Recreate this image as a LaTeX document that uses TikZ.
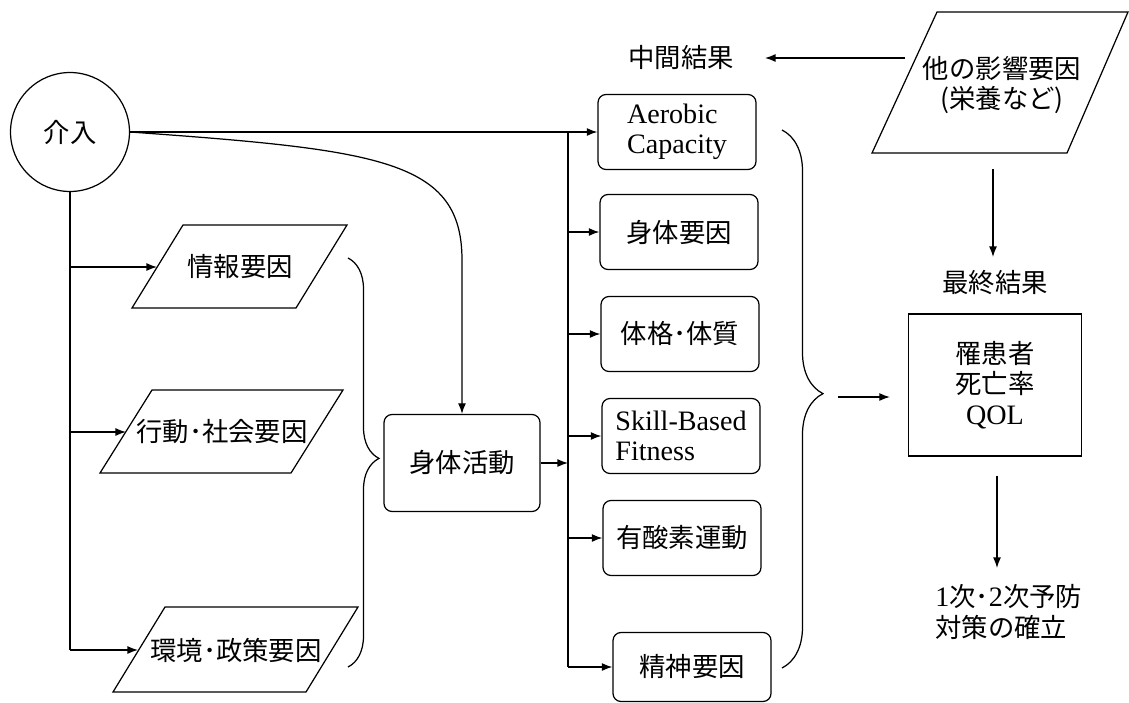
\documentclass[tikz,border=0pt]{standalone}
\usepackage{fontspec}
\setmainfont{Liberation Serif}
\newfontfamily\jp{Noto Sans CJK JP}
\usetikzlibrary{arrows.meta,decorations.pathreplacing,calc}
\newcommand\jpf{\jp\fontsize{15}{17.5}\selectfont}
\newcommand\latf{\rmfamily\fontsize{16}{17.2}\selectfont}
\begin{document}
\begin{tikzpicture}[x=0.02cm,y=-0.02cm,
  ln/.style={line width=0.7pt},
  arr/.style={ln,-{Latex[length=6pt,width=4.5pt]}},
  rbox/.style={draw,ln,rounded corners=0.16cm,minimum width=3.16cm,minimum height=1.5cm,align=center,inner sep=0pt,font=\jpf},
  jt/.style={font=\jpf,inner sep=0pt,align=center},
  brc/.style={ln,decorate,decoration={brace,amplitude=#1,aspect=0.49}}]
\useasboundingbox (0,0) rectangle (1129,703);

% intervention
\node[circle,draw,ln,minimum size=2.38cm,inner sep=0pt,font=\jpf] (ca) at (70,132) {介入};

% left parallelograms
\draw[ln] (132,308) -- (183,225) -- (347,225) -- (296,308) -- cycle;
\node[jt] (inf) at (240,267) {情報要因};
\coordinate (infL) at (157,267);
\draw[ln] (100,473) -- (152,390) -- (343,390) -- (291,473) -- cycle;
\node[jt] (beh) at (222,432) {行動･社会要因};
\coordinate (behL) at (126,432);
\draw[ln] (113,692) -- (165,607) -- (358,607) -- (306,692) -- cycle;
\node[jt] (env) at (236,650) {環境･政策要因};
\coordinate (envL) at (138,650);

% left brace
\draw[brc=0.62cm] (348,258) -- (348,667);

% physical activity
\node[rbox,minimum width=3.12cm,minimum height=1.94cm] (act) at (462,463) {身体活動};

% middle boxes
\node[rbox,font=\latf,align=left] (m1) at (677,132) {Aerobic\\Capacity};
\node[rbox] (m2) at (679,232) {身体要因};
\node[rbox] (m3) at (680,334) {体格･体質};
\node[rbox,font=\latf,align=left] (m4) at (681,436) {Skill-Based\\Fitness};
\node[rbox] (m5) at (682,538) {有酸素運動};
\node[rbox,minimum height=1.38cm] (m6) at (692,667) {精神要因};

% right vertical bus
\coordinate (vtop) at (568,132);
\coordinate (vbot) at (568,667);

% connectors left side
\draw[ln] (ca.south) -- (ca.south |- envL);
\draw[arr] (ca.south |- infL) -- (infL);
\draw[arr] (ca.south |- behL) -- (behL);
\draw[arr] (ca.south |- envL) -- (envL);
\draw[arr] (ca.east) -- (m1.west);
\draw[arr] (ca.east) .. controls (380,150) and (462,160) .. (462,260) -- (act.north);

% bus and branches
\draw[ln] (vtop) -- (vbot);
\draw[arr] (act.east) -- (act.east -| vtop);
\draw[arr] (vtop |- m2.west) -- (m2.west);
\draw[arr] (vtop |- m3.west) -- (m3.west);
\draw[arr] (vtop |- m4.west) -- (m4.west);
\draw[arr] (vtop |- m5.west) -- (m5.west);
\draw[arr] (vbot) -- (vbot -| m6.west);

% right brace
\draw[brc=0.82cm] (782,130) -- (782,668);

% other factors
\draw[ln] (872,153) -- (937,12) -- (1128,12) -- (1067,153) -- cycle;
\node[jt] (oth) at (1002,85) {他の影響要因\\(栄養など)};
\node[jt] (midl) at (681,58) {中間結果};
\coordinate (othW) at (905,58);
\coordinate (midT) at (765,58);
\draw[arr] (othW) -- (midT);
\node[jt] (finl) at (995,283) {最終結果};
\coordinate (othS) at (993,169);
\coordinate (finT) at (993,257);
\draw[arr] (othS) -- (finT);

% final outcome
\node[draw,ln,minimum width=3.46cm,minimum height=2.84cm,align=center,inner sep=0pt,font=\jpf] (fin) at (995,385) {罹患者\\死亡率\\\latf QOL};
\coordinate (bt2) at (838,397);
\draw[arr,shorten >=0.36cm] (bt2) -- (bt2 -| fin.west);
\coordinate (prevT) at (997,568);
\draw[arr,shorten <=0.38cm] (fin.south -| prevT) -- (prevT);
\node[jt,anchor=west,align=left] (prev) at (935,612) {\latf 1\jpf 次･\latf 2\jpf 次予防\\対策の確立};
\end{tikzpicture}
\end{document}
